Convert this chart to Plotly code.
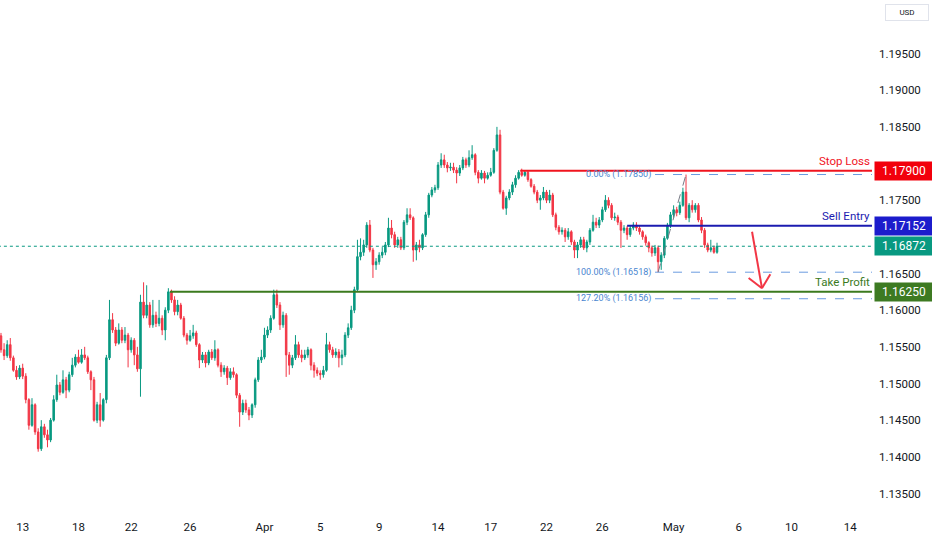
import plotly.graph_objects as go

# 4h candles (index = candle number, weekends skipped)
opens = [
    1.1565, 1.1546, 1.1538, 1.1553, 1.1535, 1.1518, 1.1509, 1.1521, 1.1510, 1.1478,
    1.1443, 1.1471, 1.1434, 1.1411, 1.1441, 1.1430, 1.1423, 1.1450, 1.1478, 1.1498,
    1.1488, 1.1505, 1.1491, 1.1512, 1.1525, 1.1536, 1.1529, 1.1539, 1.1535, 1.1516,
    1.1505, 1.1450, 1.1471, 1.1450, 1.1478, 1.1535, 1.1587, 1.1573, 1.1555, 1.1573,
    1.1559, 1.1566, 1.1546, 1.1559, 1.1539, 1.1520, 1.1611, 1.1593, 1.1607, 1.1580,
    1.1593, 1.1582, 1.1589, 1.1573, 1.1600, 1.1625, 1.1614, 1.1598, 1.1607, 1.1589,
    1.1566, 1.1559, 1.1565, 1.1569, 1.1553, 1.1532, 1.1539, 1.1528, 1.1543, 1.1535,
    1.1546, 1.1525, 1.1516, 1.1521, 1.1508, 1.1516, 1.1512, 1.1484, 1.1461, 1.1473,
    1.1464, 1.1457, 1.1471, 1.1505, 1.1532, 1.1536, 1.1566, 1.1573, 1.1589, 1.1621,
    1.1607, 1.1580, 1.1593, 1.1539, 1.1525, 1.1535, 1.1553, 1.1539, 1.1535, 1.1539,
    1.1546, 1.1525, 1.1518, 1.1514, 1.1512, 1.1518, 1.1553, 1.1546, 1.1539, 1.1543,
    1.1535, 1.1539, 1.1566, 1.1576, 1.1600, 1.1628, 1.1673, 1.1679, 1.1689, 1.1716,
    1.1682, 1.1662, 1.1666, 1.1675, 1.1679, 1.1689, 1.1712, 1.1703, 1.1689, 1.1696,
    1.1685, 1.1720, 1.1730, 1.1726, 1.1682, 1.1689, 1.1685, 1.1703, 1.1730, 1.1757,
    1.1764, 1.1767, 1.1798, 1.1805, 1.1798, 1.1794, 1.1795, 1.1791, 1.1787, 1.1794,
    1.1805, 1.1798, 1.1808, 1.1812, 1.1788, 1.1780, 1.1787, 1.1780, 1.1784, 1.1788,
    1.1818, 1.1839, 1.1761, 1.1739, 1.1753, 1.1761, 1.1771, 1.1780, 1.1788, 1.1784,
    1.1788, 1.1778, 1.1769, 1.1761, 1.1750, 1.1753, 1.1761, 1.1750, 1.1757, 1.1730,
    1.1713, 1.1707, 1.1709, 1.1700, 1.1707, 1.1693, 1.1682, 1.1689, 1.1696, 1.1685,
    1.1693, 1.1709, 1.1720, 1.1716, 1.1723, 1.1737, 1.1750, 1.1743, 1.1726, 1.1727,
    1.1720, 1.1709, 1.1712, 1.1703, 1.1712, 1.1716, 1.1712, 1.1707, 1.1700, 1.1692,
    1.1685, 1.1678, 1.1685, 1.1666, 1.1675, 1.1698, 1.1716, 1.1730, 1.1737, 1.1733,
    1.1743, 1.1761, 1.1726, 1.1743, 1.1737, 1.1743, 1.1723, 1.1709, 1.1689, 1.1682,
    1.1685, 1.1679,
]
highs = [
    1.1569, 1.1555, 1.1559, 1.1562, 1.1538, 1.1524, 1.1525, 1.1527, 1.1514, 1.1480,
    1.1480, 1.1473, 1.1439, 1.1450, 1.1445, 1.1437, 1.1453, 1.1484, 1.1512, 1.1502,
    1.1518, 1.1509, 1.1516, 1.1535, 1.1540, 1.1546, 1.1547, 1.1550, 1.1538, 1.1518,
    1.1509, 1.1475, 1.1487, 1.1480, 1.1539, 1.1614, 1.1596, 1.1577, 1.1582, 1.1577,
    1.1577, 1.1569, 1.1563, 1.1562, 1.1550, 1.1621, 1.1638, 1.1634, 1.1611, 1.1614,
    1.1598, 1.1614, 1.1593, 1.1604, 1.1630, 1.1628, 1.1619, 1.1614, 1.1610, 1.1592,
    1.1569, 1.1573, 1.1580, 1.1572, 1.1555, 1.1543, 1.1543, 1.1546, 1.1547, 1.1559,
    1.1548, 1.1529, 1.1525, 1.1524, 1.1521, 1.1522, 1.1514, 1.1487, 1.1478, 1.1478,
    1.1468, 1.1473, 1.1508, 1.1536, 1.1546, 1.1576, 1.1578, 1.1593, 1.1628, 1.1628,
    1.1611, 1.1598, 1.1596, 1.1543, 1.1539, 1.1566, 1.1557, 1.1546, 1.1546, 1.1550,
    1.1548, 1.1529, 1.1522, 1.1518, 1.1524, 1.1569, 1.1557, 1.1550, 1.1548, 1.1547,
    1.1546, 1.1570, 1.1582, 1.1606, 1.1632, 1.1696, 1.1698, 1.1696, 1.1720, 1.1723,
    1.1685, 1.1671, 1.1679, 1.1686, 1.1693, 1.1726, 1.1723, 1.1707, 1.1700, 1.1700,
    1.1723, 1.1739, 1.1739, 1.1728, 1.1693, 1.1696, 1.1705, 1.1734, 1.1760, 1.1768,
    1.1771, 1.1802, 1.1814, 1.1812, 1.1802, 1.1801, 1.1801, 1.1795, 1.1798, 1.1809,
    1.1808, 1.1818, 1.1825, 1.1814, 1.1791, 1.1791, 1.1790, 1.1788, 1.1794, 1.1821,
    1.1850, 1.1846, 1.1764, 1.1756, 1.1765, 1.1775, 1.1784, 1.1791, 1.1793, 1.1791,
    1.1791, 1.1780, 1.1772, 1.1764, 1.1757, 1.1768, 1.1764, 1.1764, 1.1760, 1.1733,
    1.1716, 1.1713, 1.1712, 1.1712, 1.1709, 1.1696, 1.1693, 1.1700, 1.1700, 1.1696,
    1.1712, 1.1730, 1.1726, 1.1727, 1.1741, 1.1757, 1.1754, 1.1746, 1.1733, 1.1730,
    1.1723, 1.1716, 1.1715, 1.1716, 1.1720, 1.1720, 1.1715, 1.1709, 1.1703, 1.1694,
    1.1688, 1.1689, 1.1688, 1.1679, 1.1701, 1.1719, 1.1734, 1.1743, 1.1741, 1.1748,
    1.1767, 1.1785, 1.1746, 1.1750, 1.1746, 1.1746, 1.1727, 1.1712, 1.1692, 1.1696,
    1.1688, 1.1692,
]
lows = [
    1.1542, 1.1532, 1.1535, 1.1531, 1.1516, 1.1505, 1.1506, 1.1506, 1.1473, 1.1437,
    1.1441, 1.1430, 1.1407, 1.1408, 1.1426, 1.1413, 1.1420, 1.1448, 1.1475, 1.1484,
    1.1486, 1.1480, 1.1488, 1.1509, 1.1522, 1.1527, 1.1527, 1.1532, 1.1513, 1.1491,
    1.1448, 1.1446, 1.1441, 1.1448, 1.1473, 1.1532, 1.1569, 1.1551, 1.1553, 1.1555,
    1.1555, 1.1522, 1.1542, 1.1525, 1.1516, 1.1482, 1.1589, 1.1589, 1.1576, 1.1576,
    1.1577, 1.1578, 1.1566, 1.1559, 1.1596, 1.1610, 1.1593, 1.1593, 1.1587, 1.1563,
    1.1553, 1.1557, 1.1561, 1.1550, 1.1521, 1.1528, 1.1522, 1.1525, 1.1532, 1.1531,
    1.1522, 1.1509, 1.1512, 1.1498, 1.1505, 1.1508, 1.1480, 1.1441, 1.1457, 1.1460,
    1.1450, 1.1453, 1.1467, 1.1502, 1.1528, 1.1533, 1.1562, 1.1569, 1.1587, 1.1603,
    1.1573, 1.1576, 1.1509, 1.1512, 1.1521, 1.1532, 1.1535, 1.1529, 1.1532, 1.1535,
    1.1518, 1.1508, 1.1510, 1.1505, 1.1508, 1.1516, 1.1542, 1.1535, 1.1535, 1.1522,
    1.1525, 1.1536, 1.1562, 1.1573, 1.1596, 1.1625, 1.1668, 1.1674, 1.1685, 1.1679,
    1.1644, 1.1655, 1.1662, 1.1671, 1.1675, 1.1686, 1.1698, 1.1685, 1.1685, 1.1682,
    1.1682, 1.1716, 1.1723, 1.1666, 1.1668, 1.1679, 1.1682, 1.1700, 1.1726, 1.1754,
    1.1760, 1.1764, 1.1794, 1.1794, 1.1788, 1.1790, 1.1787, 1.1773, 1.1783, 1.1791,
    1.1794, 1.1795, 1.1805, 1.1784, 1.1773, 1.1778, 1.1773, 1.1778, 1.1782, 1.1786,
    1.1816, 1.1758, 1.1737, 1.1730, 1.1750, 1.1757, 1.1767, 1.1778, 1.1782, 1.1782,
    1.1775, 1.1767, 1.1758, 1.1746, 1.1737, 1.1750, 1.1746, 1.1746, 1.1727, 1.1709,
    1.1703, 1.1703, 1.1693, 1.1696, 1.1689, 1.1671, 1.1671, 1.1685, 1.1682, 1.1679,
    1.1689, 1.1707, 1.1712, 1.1712, 1.1720, 1.1734, 1.1739, 1.1723, 1.1722, 1.1716,
    1.1685, 1.1705, 1.1696, 1.1700, 1.1709, 1.1708, 1.1703, 1.1696, 1.1688, 1.1679,
    1.1673, 1.1674, 1.1652, 1.1655, 1.1671, 1.1696, 1.1712, 1.1726, 1.1728, 1.1730,
    1.1741, 1.1723, 1.1720, 1.1733, 1.1733, 1.1720, 1.1705, 1.1685, 1.1679, 1.1679,
    1.1677, 1.1677,
]
closes = [
    1.1546, 1.1538, 1.1553, 1.1535, 1.1518, 1.1509, 1.1521, 1.1510, 1.1478, 1.1443,
    1.1471, 1.1434, 1.1411, 1.1441, 1.1430, 1.1423, 1.1450, 1.1478, 1.1498, 1.1488,
    1.1505, 1.1491, 1.1512, 1.1525, 1.1536, 1.1529, 1.1539, 1.1535, 1.1516, 1.1505,
    1.1450, 1.1471, 1.1450, 1.1478, 1.1535, 1.1587, 1.1573, 1.1555, 1.1573, 1.1559,
    1.1566, 1.1546, 1.1559, 1.1539, 1.1520, 1.1611, 1.1593, 1.1607, 1.1580, 1.1593,
    1.1582, 1.1589, 1.1573, 1.1600, 1.1625, 1.1614, 1.1598, 1.1607, 1.1589, 1.1566,
    1.1559, 1.1565, 1.1569, 1.1553, 1.1532, 1.1539, 1.1528, 1.1543, 1.1535, 1.1546,
    1.1525, 1.1516, 1.1521, 1.1508, 1.1516, 1.1512, 1.1484, 1.1461, 1.1473, 1.1464,
    1.1457, 1.1471, 1.1505, 1.1532, 1.1536, 1.1566, 1.1573, 1.1589, 1.1621, 1.1607,
    1.1580, 1.1593, 1.1539, 1.1525, 1.1535, 1.1553, 1.1539, 1.1535, 1.1539, 1.1546,
    1.1525, 1.1518, 1.1514, 1.1512, 1.1518, 1.1553, 1.1546, 1.1539, 1.1543, 1.1535,
    1.1539, 1.1566, 1.1576, 1.1600, 1.1628, 1.1673, 1.1679, 1.1689, 1.1716, 1.1682,
    1.1662, 1.1666, 1.1675, 1.1679, 1.1689, 1.1712, 1.1703, 1.1689, 1.1696, 1.1685,
    1.1720, 1.1730, 1.1726, 1.1682, 1.1689, 1.1685, 1.1703, 1.1730, 1.1757, 1.1764,
    1.1767, 1.1798, 1.1805, 1.1798, 1.1794, 1.1795, 1.1791, 1.1787, 1.1794, 1.1805,
    1.1798, 1.1808, 1.1812, 1.1788, 1.1780, 1.1787, 1.1780, 1.1784, 1.1788, 1.1818,
    1.1839, 1.1761, 1.1739, 1.1753, 1.1761, 1.1771, 1.1780, 1.1788, 1.1784, 1.1788,
    1.1778, 1.1769, 1.1761, 1.1750, 1.1753, 1.1761, 1.1750, 1.1757, 1.1730, 1.1713,
    1.1707, 1.1709, 1.1700, 1.1707, 1.1693, 1.1682, 1.1689, 1.1696, 1.1685, 1.1693,
    1.1709, 1.1720, 1.1716, 1.1723, 1.1737, 1.1750, 1.1743, 1.1726, 1.1727, 1.1720,
    1.1709, 1.1712, 1.1703, 1.1712, 1.1716, 1.1712, 1.1707, 1.1700, 1.1692, 1.1685,
    1.1678, 1.1685, 1.1666, 1.1675, 1.1698, 1.1716, 1.1730, 1.1737, 1.1733, 1.1743,
    1.1761, 1.1726, 1.1743, 1.1737, 1.1743, 1.1723, 1.1709, 1.1689, 1.1682, 1.1685,
    1.1679, 1.16872,
]

# date labels on the time axis (candle index -> label)
tick_index = [7, 25, 42, 61, 85, 103, 122, 141, 158, 176, 194, 217, 238, 255, 274]
tick_text = ["13", "18", "22", "26", "Apr", "5", "9", "14", "17", "22", "26", "May", "6", "10", "14"]
# 1.170 / 1.180 sit under the price tags, so they are left out
price_ticks = [1.135, 1.140, 1.145, 1.150, 1.155, 1.160, 1.165, 1.175, 1.185, 1.190, 1.195]

# trade levels
stop_loss = 1.17900
sell_entry = 1.17152
take_profit = 1.16250
last_price = 1.16872
fib_levels = [("0.00%", 1.17850), ("100.00%", 1.16518), ("127.20%", 1.16156)]

UP = "#089981"
DOWN = "#f23645"
X_END = 281

fig = go.Figure()
fig.add_trace(go.Candlestick(
    x=list(range(len(opens))), open=opens, high=highs, low=lows, close=closes,
    increasing=dict(line=dict(color=UP, width=1), fillcolor=UP),
    decreasing=dict(line=dict(color=DOWN, width=1), fillcolor=DOWN),
    whiskerwidth=0, hoverinfo="skip", showlegend=False,
))

shapes = []
# current price dotted line
shapes.append(dict(type="line", xref="x", yref="y", x0=-1, x1=X_END, y0=last_price, y1=last_price,
                   line=dict(color=UP, width=1, dash="dot")))
# fib levels
for name, lvl in fib_levels:
    shapes.append(dict(type="line", xref="x", yref="y", x0=211, x1=X_END, y0=lvl, y1=lvl,
                       line=dict(color="#6a9be0", width=1, dash="dash")))
# fib trend line (swing low -> swing high)
shapes.append(dict(type="line", xref="x", yref="y", x0=212, x1=221, y0=1.16518, y1=1.17850,
                   line=dict(color="#787b86", width=1, dash="dash")))
# trade lines
shapes.append(dict(type="line", xref="x", yref="y", x0=167.5, x1=X_END, y0=stop_loss, y1=stop_loss,
                   line=dict(color="#f0141e", width=2)))
shapes.append(dict(type="line", xref="x", yref="y", x0=202, x1=X_END, y0=sell_entry, y1=sell_entry,
                   line=dict(color="#1b1bb0", width=2)))
shapes.append(dict(type="line", xref="x", yref="y", x0=54.5, x1=X_END, y0=take_profit, y1=take_profit,
                   line=dict(color="#3b7a1e", width=2)))
# red arrow pointing down to the target
arrow_x = [242.3, 245.5]
arrow_y = [1.1707, 1.1630]
shapes.append(dict(type="line", xref="x", yref="y", x0=arrow_x[0], x1=arrow_x[1], y0=arrow_y[0], y1=arrow_y[1],
                   line=dict(color=DOWN, width=2)))
shapes.append(dict(type="line", xref="x", yref="y", x0=241.2, x1=arrow_x[1], y0=1.1644, y1=arrow_y[1],
                   line=dict(color=DOWN, width=2)))
shapes.append(dict(type="line", xref="x", yref="y", x0=248.2, x1=arrow_x[1], y0=1.1649, y1=arrow_y[1],
                   line=dict(color=DOWN, width=2)))

annotations = []
font_name = "Roboto"
# line labels
for txt, lvl, col in [("Stop Loss", stop_loss, "#f0141e"), ("Sell Entry", sell_entry, "#1b1bb0"),
                      ("Take Profit", take_profit, "#3b7a1e")]:
    annotations.append(dict(xref="paper", yref="y", x=1.0, y=lvl, xanchor="right", yanchor="bottom",
                            yshift=1, text=txt, showarrow=False,
                            font=dict(family=font_name, size=11.5, color=col)))
# fib labels
for name, lvl in fib_levels:
    annotations.append(dict(xref="x", yref="y", x=210.5, y=lvl, xanchor="right", yanchor="middle",
                            text=f"{name} ({lvl:.5f})", showarrow=False,
                            font=dict(family=font_name, size=9, color="#4a86d0")))
# price tags on the axis
for lvl, col in [(stop_loss, "#f2000c"), (sell_entry, "#1c1ccc"), (last_price, UP), (take_profit, "#3d7a22")]:
    annotations.append(dict(xref="paper", yref="y", x=1.002, y=lvl, xanchor="left", yanchor="middle",
                            text=f"{lvl:.5f}", showarrow=False, bgcolor=col, width=56, height=16,
                            font=dict(family=font_name, size=12, color="white")))
annotations.append(dict(xref="paper", yref="paper", x=1.04, y=0.976, xanchor="center", yanchor="middle",
                        text="USD", showarrow=False, bordercolor="#e0e3eb", borderwidth=1, borderpad=3,
                        width=36, font=dict(family=font_name, size=8, color="#131722")))

fig.update_layout(
    width=932, height=550,
    margin=dict(l=0, r=60, t=0, b=40),
    paper_bgcolor="white", plot_bgcolor="white",
    shapes=shapes, annotations=annotations,
    font=dict(family=font_name, size=12, color="#131722"),
    xaxis=dict(range=[-0.32, X_END], tickvals=tick_index, ticktext=tick_text,
               showgrid=False, zeroline=False, showline=False, ticks="", ticklabelstandoff=8,
               rangeslider=dict(visible=False), fixedrange=True,
               tickfont=dict(family=font_name, size=11.5, color="#131722")),
    yaxis=dict(range=[1.13275, 1.2023], side="right", tickvals=price_ticks, tickformat=".5f",
               showgrid=False, zeroline=False, showline=False, ticks="", ticklabelstandoff=6,
               tickfont=dict(family=font_name, size=11.5, color="#131722")),
)

fig.write_html("out.html", config={"displayModeBar": False},
               post_script="document.body.style.margin='0px';")
